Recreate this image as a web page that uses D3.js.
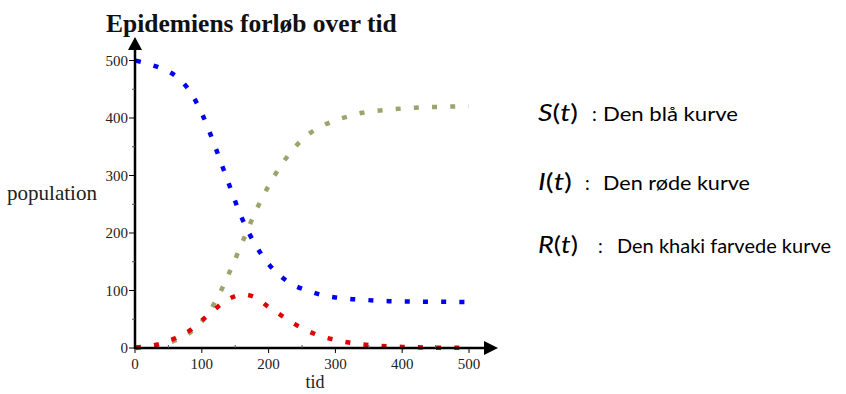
<!DOCTYPE html>
<html>
<head>
<meta charset="utf-8">
<script src="https://cdn.jsdelivr.net/npm/d3@7/dist/d3.min.js"></script>
<style>
html,body{margin:0;padding:0;background:#fff;}
svg{display:block;}
</style>
</head>
<body>
<svg id="chart" width="846" height="394"></svg>
<script>
// ---- data ----
const tValues = [0,20,40,60,80,100,120,140,160,180,200,220,240,260,280,300,320,340,360,380,400,420,440,460,480,500];
const susceptible = [500,494,486,474,450,408,350,287,226,180,146,123,108,99,92,88,85.5,84,82.5,81.5,81,80.7,80.5,80.3,80.2,80];
const infected = [1,3,8,17,29,48,68,85,93,88,71,56,41,29,20,14,9.5,6.5,4.3,2.8,1.9,1.2,0.8,0.5,0.3,0.2];
const recovered = [0,2,6,13,25,46,80,128,182,236,282,320,350,372,386,396,403,409,412,414.5,416.5,418,419,419.5,420,420];
const xTicks = [0,100,200,300,400,500];
const yTicks = [0,100,200,300,400,500];
const titleText = "Epidemiens forløb over tid";
const xLabel = "tid";
const yLabel = "population";
const legendLetters = ["S","I","R"];
const legendTexts = ["Den blå kurve","Den røde kurve","Den khaki farvede kurve"];
const seriesColors = ["#0000f0","#e00000","#a0a26c"];

const svg = d3.select("#chart");
const x = d3.scaleLinear().domain([0,500]).range([135,469]);
const y = d3.scaleLinear().domain([0,500]).range([348,60.5]);
const serif = "'Liberation Serif','Times New Roman',serif";

// title
svg.append("text").attr("x",106).attr("y",32)
  .attr("font-family",serif)
  .attr("font-weight","bold").attr("font-size",25.5).attr("fill","#111")
  .text(titleText);

// series
const series = [susceptible, infected, recovered];
const line = d3.line().x(d=>x(d[0])).y(d=>y(d[1])).curve(d3.curveCatmullRom);
[2,0,1].forEach(i=>{
  svg.append("path")
    .datum(tValues.map((t,k)=>[t,series[i][k]]))
    .attr("d",line)
    .attr("fill","none")
    .attr("stroke",seriesColors[i])
    .attr("stroke-width",4.5)
    .attr("stroke-dasharray","5,13.2")
    .attr("stroke-dashoffset",-1);
});

// axes lines
const g = svg.append("g");
g.append("line").attr("x1",x(0)).attr("x2",488).attr("y1",y(0)).attr("y2",y(0))
  .attr("stroke","#000").attr("stroke-width",2.5);
g.append("line").attr("x1",x(0)).attr("x2",x(0)).attr("y1",y(0)+1).attr("y2",48)
  .attr("stroke","#000").attr("stroke-width",2.5);
g.append("path").attr("d",`M${x(0)-7},50 L${x(0)},37 L${x(0)+7},50 Z`).attr("fill","#000");
g.append("path").attr("d",`M484,${y(0)-7} L498,${y(0)} L484,${y(0)+7} Z`).attr("fill","#000");

// ticks
const minor = d3.range(50,500,100);
yTicks.forEach(v=>{
  g.append("line").attr("x1",x(0)-6).attr("x2",x(0)).attr("y1",y(v)).attr("y2",y(v)).attr("stroke","#000").attr("stroke-width",1);
  g.append("text").attr("x",x(0)-7).attr("y",y(v)).attr("dy","0.35em").attr("text-anchor","end")
    .attr("font-family",serif).attr("font-size",15).attr("fill","#222").text(v);
});
minor.forEach(v=>{
  g.append("line").attr("x1",x(0)-3).attr("x2",x(0)).attr("y1",y(v)).attr("y2",y(v)).attr("stroke","#555").attr("stroke-width",1);
  g.append("line").attr("x1",x(v)).attr("x2",x(v)).attr("y1",y(0)).attr("y2",y(0)-3).attr("stroke","#555").attr("stroke-width",1);
});
xTicks.forEach(v=>{
  g.append("line").attr("x1",x(v)).attr("x2",x(v)).attr("y1",y(0)).attr("y2",y(0)+5).attr("stroke","#000").attr("stroke-width",1);
  g.append("text").attr("x",x(v)).attr("y",369).attr("text-anchor","middle")
    .attr("font-family",serif).attr("font-size",15).attr("fill","#222").text(v);
});

// axis labels
svg.append("text").attr("x",315).attr("y",388).attr("text-anchor","middle")
  .attr("font-family",serif).attr("font-size",18).attr("fill","#222").text(xLabel);
svg.append("text").attr("x",7).attr("y",200).attr("textLength",90).attr("lengthAdjust","spacingAndGlyphs")
  .attr("font-family",serif).attr("font-size",21).attr("fill","#222").text(yLabel);

// legend
const legendY = [121,190,253];
const fnWidth = [40,34,40];
const colonX = [592,585,598];
const textX = [603,603,617];
const textW = [135,147,214];
const sans = "Lato,'Open Sans',sans-serif";
legendLetters.forEach((L,i)=>{
  const f = svg.append("text").attr("x",538).attr("y",legendY[i])
    .attr("font-family",sans).attr("font-size",23).attr("fill","#000")
    .attr("textLength",fnWidth[i]).attr("lengthAdjust","spacingAndGlyphs");
  f.append("tspan").attr("font-style","italic").text(L);
  f.append("tspan").text("(");
  f.append("tspan").attr("font-style","italic").text("t");
  f.append("tspan").text(")");
  svg.append("text").attr("x",colonX[i]).attr("y",legendY[i])
    .attr("font-family",sans).attr("font-size",19).attr("fill","#000").text(":");
  svg.append("text").attr("x",textX[i]).attr("y",legendY[i])
    .attr("font-family",sans).attr("font-size",19).attr("fill","#000")
    .attr("textLength",textW[i]).attr("lengthAdjust","spacingAndGlyphs")
    .text(legendTexts[i]);
});
</script>
</body>
</html>
